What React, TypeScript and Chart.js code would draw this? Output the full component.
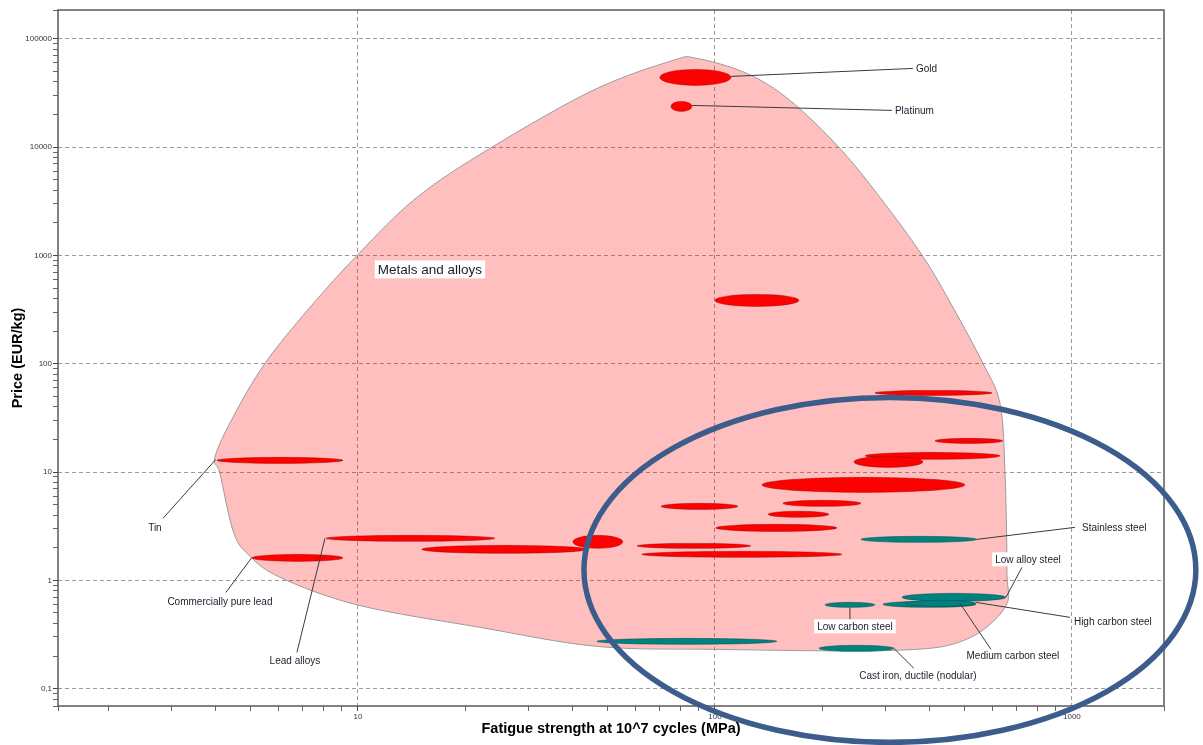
import { useEffect, useRef } from 'react';
import { Chart, registerables } from 'chart.js';

Chart.register(...registerables);

// ---- Material property ranges (fatigue strength MPa, price EUR/kg) ----
const materials = [
  'Gold', 'Platinum', 'Silver', 'Titanium alloys', 'Cobalt alloys',
  'Nickel-chromium alloys', 'Nickel', 'Nickel alloys', 'Copper', 'Bronze',
  'Brass', 'Wrought aluminium alloys', 'Stainless steel', 'Zinc', 'Magnesium alloys',
  'Cast aluminium alloys', 'Zinc alloys', 'Tin', 'Lead alloys', 'Commercially pure lead',
  'Low alloy steel', 'Medium carbon steel', 'High carbon steel', 'Low carbon steel',
  'Cast iron, gray', 'Cast iron, ductile (nodular)',
];
const family = [
  'nonferrous', 'nonferrous', 'nonferrous', 'nonferrous', 'nonferrous',
  'nonferrous', 'nonferrous', 'nonferrous', 'nonferrous', 'nonferrous',
  'nonferrous', 'nonferrous', 'ferrous', 'nonferrous', 'nonferrous',
  'nonferrous', 'nonferrous', 'nonferrous', 'nonferrous', 'nonferrous',
  'ferrous', 'ferrous', 'ferrous', 'ferrous',
  'ferrous', 'ferrous',
];
const fatigueLow = [
  70.1, 75.3, 100, 280.6, 413.3,
  263.2, 245.1, 135.4, 70.6, 155.0,
  140.8, 100.6, 256.4, 40.0, 60.5,
  62.4, 15.1, 4.03, 8.14, 5.05,
  334.1, 295.5, 340.6, 203.3,
  46.7, 195.6,
];
const fatigueHigh = [
  110.9, 86.2, 171.9, 597.0, 640.8,
  628.6, 382.4, 501.5, 116.0, 256.4,
  208.6, 219.6, 541.9, 55.2, 126.1,
  226.8, 43.8, 9.08, 24.2, 9.08,
  653.4, 538.4, 538.4, 280.6,
  149.2, 317.1,
];
const priceLow = [
  37100, 21350, 338.3, 51.0, 18.39,
  13.09, 11.04, 6.49, 4.52, 4.82,
  3.82, 2.83, 2.243, 1.974, 1.974,
  1.631, 1.775, 12.02, 2.291, 1.497,
  0.6401, 0.5633, 0.5754, 0.5633,
  0.2566, 0.2211,
];
const priceHigh = [
  52120, 26410, 436.7, 56.7, 20.46,
  15.19, 13.95, 8.93, 5.14, 5.48,
  4.34, 3.29, 2.548, 2.603, 2.195,
  1.852, 2.104, 13.66, 2.603, 1.738,
  0.7586, 0.6401, 0.6536, 0.6264,
  0.2914, 0.2511,
];

// ---- "Metals and alloys" envelope (fatigue MPa, price EUR/kg) ----
const envelopeFatigue = [
  3.975, 4.466, 5.49, 7.34, 10.07, 14.63, 23.43, 45.5, 76.3, 89.0,
  122.9, 162.3, 223.9, 289.9, 382.4, 464.2, 563.3, 628.6, 649.2, 657.6,
  649.2, 498.3, 315.1, 100, 46.7, 21.96, 10.07, 6.05, 4.89, 4.466, 4.106,
];
const envelopePrice = [
  13.66, 31.97, 100.7, 331.3, 1044, 3431, 9723, 33370, 63120, 65850,
  47880, 26970, 9723, 3431, 979, 331.3, 100.7, 43.04, 10.36, 1.237,
  0.5633, 0.2793, 0.2258, 0.2307, 0.2459, 0.3683, 0.5878, 1.066, 1.775, 2.894, 9.72,
];

// ---- Axis ----
const xMin = 1.445;
const xMax = 1811;
const yMin = 0.0692;
const yMax = 184300;

// ---- Annotations (data units) ----
const labelTexts = [
  'Gold', 'Platinum', 'Tin', 'Commercially pure lead', 'Lead alloys', 'Metals and alloys',
  'Stainless steel', 'Low alloy steel', 'High carbon steel', 'Medium carbon steel',
  'Low carbon steel', 'Cast iron, ductile (nodular)',
];
const labelAttachX = [110.9, 86.2, 4.0, 5.05, 8.084, NaN, 541.9, 653.4, 538.4, 485.7, 238.9, 317.1];
const labelAttachY = [44930, 24250, 13.09, 1.631, 2.442, NaN, 2.39, 0.6967, 0.6264, 0.6132, 0.5633, 0.2357];
const labelEndX = [358.6, 313.1, 2.843, 4.268, 6.748, NaN, 1019.5, 724.4, 987.2, 593.1, 238.9, 360.9];
const labelEndY = [53250, 21810, 3.735, 0.7749, 0.2164, NaN, 3.085, 1.318, 0.4555, 0.2307, 0.4365, 0.1541];
const labelTextX = [365.6, 319.3, 2.70, 4.106, 6.66, 15.91, 1067, 753, 1013, 683.5, 246.7, 370.3];
const labelTextY = [53250, 21810, 3.085, 0.6401, 0.1826, 742.9, 3.085, 1.563, 0.4183, 0.2031, 0.3762, 0.1327];
const labelAlign = ['left', 'left', 'center', 'center', 'center', 'center', 'left', 'center', 'left', 'center', 'center', 'center'];
const labelBoxed = [false, false, false, false, false, true, false, true, false, false, true, false];

// ---- Highlight ring (data units) ----
const ringFatigue = [42.97, 2224];
const ringPrice = [0.03195, 48.9];

const FONT = '"Liberation Sans", Arial, sans-serif';

const isDecade = (v: number) => {
  const l = Math.log10(v);
  return Math.abs(l - Math.round(l)) < 1e-6;
};
const isHalfStep = (v: number) => {
  const s = v / Math.pow(10, Math.floor(Math.log10(v) + 1e-9));
  return Math.abs(s - 1.5) < 1e-6;
};

export default function App() {
  const ref = useRef<HTMLCanvasElement>(null);

  useEffect(() => {
    document.body.style.margin = '0';
    const canvas = ref.current;
    if (!canvas) return;

    const overlay = {
      id: 'materialOverlay',
      beforeDatasetsDraw(chart: any) {
        const { ctx, chartArea, scales } = chart;
        const x = scales.x;
        const y = scales.y;
        ctx.save();
        ctx.beginPath();
        ctx.rect(chartArea.left, chartArea.top, chartArea.right - chartArea.left, chartArea.bottom - chartArea.top);
        ctx.clip();

        // envelope
        const pts = envelopeFatigue.map((v, i) => [x.getPixelForValue(v), y.getPixelForValue(envelopePrice[i])]);
        const n = pts.length;
        ctx.beginPath();
        ctx.moveTo(pts[0][0], pts[0][1]);
        for (let i = 0; i < n; i++) {
          const p0 = pts[(i - 1 + n) % n];
          const p1 = pts[i];
          const p2 = pts[(i + 1) % n];
          const p3 = pts[(i + 2) % n];
          const c1x = p1[0] + (p2[0] - p0[0]) / 6;
          const c1y = p1[1] + (p2[1] - p0[1]) / 6;
          const c2x = p2[0] - (p3[0] - p1[0]) / 6;
          const c2y = p2[1] - (p3[1] - p1[1]) / 6;
          ctx.bezierCurveTo(c1x, c1y, c2x, c2y, p2[0], p2[1]);
        }
        ctx.closePath();
        ctx.fillStyle = 'rgba(255,0,0,0.25)';
        ctx.fill();
        ctx.strokeStyle = '#9a9a9a';
        ctx.lineWidth = 1;
        ctx.stroke();

        // material ellipses
        for (let i = 0; i < materials.length; i++) {
          const x1 = x.getPixelForValue(fatigueLow[i]);
          const x2 = x.getPixelForValue(fatigueHigh[i]);
          const y1 = y.getPixelForValue(priceLow[i]);
          const y2 = y.getPixelForValue(priceHigh[i]);
          const ferrous = family[i] === 'ferrous';
          ctx.beginPath();
          ctx.ellipse((x1 + x2) / 2, (y1 + y2) / 2, Math.abs(x2 - x1) / 2, Math.abs(y1 - y2) / 2, 0, 0, Math.PI * 2);
          ctx.fillStyle = ferrous ? '#00827f' : '#ff0000';
          ctx.fill();
          ctx.strokeStyle = ferrous ? 'rgba(0,70,70,0.6)' : 'rgba(140,0,0,0.55)';
          ctx.lineWidth = 0.8;
          ctx.stroke();
        }
        ctx.restore();
      },
      afterDatasetsDraw(chart: any) {
        const { ctx, chartArea, scales } = chart;
        const x = scales.x;
        const y = scales.y;
        ctx.save();
        // leader lines
        ctx.strokeStyle = '#3a3a3a';
        ctx.lineWidth = 1;
        for (let i = 0; i < labelTexts.length; i++) {
          if (isNaN(labelAttachX[i])) continue;
          ctx.beginPath();
          ctx.moveTo(x.getPixelForValue(labelAttachX[i]), y.getPixelForValue(labelAttachY[i]));
          ctx.lineTo(x.getPixelForValue(labelEndX[i]), y.getPixelForValue(labelEndY[i]));
          ctx.stroke();
        }
        // label texts
        for (let i = 0; i < labelTexts.length; i++) {
          const big = labelTexts[i] === 'Metals and alloys';
          ctx.font = `${big ? 13.5 : 10}px ${FONT}`;
          const tx = x.getPixelForValue(labelTextX[i]);
          const ty = y.getPixelForValue(labelTextY[i]);
          const w = ctx.measureText(labelTexts[i]).width;
          const left = labelAlign[i] === 'left' ? tx : tx - w / 2;
          if (labelBoxed[i]) {
            const h = big ? 18 : 14;
            ctx.fillStyle = '#ffffff';
            ctx.fillRect(left - 3, ty - h / 2, w + 6, h);
          }
          ctx.fillStyle = '#1c1c2c';
          ctx.textBaseline = 'middle';
          ctx.textAlign = 'left';
          ctx.fillText(labelTexts[i], left, ty + 0.5);
        }
        // frame
        ctx.strokeStyle = '#5a5a5a';
        ctx.lineWidth = 1.5;
        ctx.strokeRect(chartArea.left, chartArea.top, chartArea.right - chartArea.left, chartArea.bottom - chartArea.top);
        ctx.restore();
      },
      afterDraw(chart: any) {
        const { ctx, scales } = chart;
        const x = scales.x;
        const y = scales.y;
        const x1 = x.getPixelForValue(ringFatigue[0]);
        const x2 = x.getPixelForValue(ringFatigue[1]);
        const y1 = y.getPixelForValue(ringPrice[0]);
        const y2 = y.getPixelForValue(ringPrice[1]);
        ctx.save();
        ctx.beginPath();
        ctx.ellipse((x1 + x2) / 2, (y1 + y2) / 2, Math.abs(x2 - x1) / 2, Math.abs(y1 - y2) / 2, 0, 0, Math.PI * 2);
        ctx.strokeStyle = '#3c5d8c';
        ctx.lineWidth = 5.5;
        ctx.stroke();
        ctx.restore();
      },
    };

    const chart = new Chart(canvas, {
      type: 'scatter',
      data: {
        datasets: [
          {
            label: 'Materials',
            data: materials.map((_, i) => ({
              x: Math.sqrt(fatigueLow[i] * fatigueHigh[i]),
              y: Math.sqrt(priceLow[i] * priceHigh[i]),
            })),
            pointRadius: 0,
            pointHoverRadius: 0,
          },
        ],
      },
      options: {
        animation: false,
        responsive: true,
        maintainAspectRatio: false,
        layout: { padding: { top: 10, right: 39, left: 0, bottom: 0 } },
        plugins: { legend: { display: false }, tooltip: { enabled: false } },
        scales: {
          x: {
            type: 'logarithmic',
            min: xMin,
            max: xMax,
            afterFit: (s: any) => { s.height = 39; },
            ticks: {
              autoSkip: false,
              maxRotation: 0,
              padding: 1,
              color: '#333344',
              font: { size: 8, family: FONT },
              callback: (v: any) => (isDecade(Number(v)) ? String(Number(v)) : ''),
            },
            grid: {
              lineWidth: 1,
              tickLength: 5,
              color: (c: any) => (c.tick && isDecade(c.tick.value) ? '#9a9a9a' : 'rgba(0,0,0,0)'),
              tickColor: (c: any) =>
                !c.tick || isHalfStep(c.tick.value) ? 'rgba(0,0,0,0)' : isDecade(c.tick.value) ? '#444' : '#666',
            },
            border: { display: false, dash: [4, 3] },
            title: {
              display: true,
              text: 'Fatigue strength at 10^7 cycles (MPa)',
              color: '#000',
              font: { size: 14.5, weight: 'bold', family: FONT },
              padding: { top: 0, bottom: 7.3 },
            },
          },
          y: {
            type: 'logarithmic',
            min: yMin,
            max: yMax,
            afterFit: (s: any) => { s.width = 58; },
            ticks: {
              autoSkip: false,
              padding: 1,
              color: '#333344',
              font: { size: 8, family: FONT },
              callback: (v: any) => {
                const n = Number(v);
                if (!isDecade(n)) return '';
                return n >= 1 ? String(Math.round(n)) : String(n).replace('.', ',');
              },
            },
            grid: {
              lineWidth: 1,
              tickLength: 5,
              color: (c: any) => (c.tick && isDecade(c.tick.value) ? '#9a9a9a' : 'rgba(0,0,0,0)'),
              tickColor: (c: any) =>
                !c.tick || isHalfStep(c.tick.value) ? 'rgba(0,0,0,0)' : isDecade(c.tick.value) ? '#444' : '#666',
            },
            border: { display: false, dash: [4, 3] },
            title: {
              display: true,
              text: 'Price (EUR/kg)',
              color: '#000',
              font: { size: 14.5, weight: 'bold', family: FONT },
              padding: { top: 9.3, bottom: 0 },
            },
          },
        },
      },
      plugins: [overlay],
    });

    return () => chart.destroy();
  }, []);

  return (
    <div style={{ width: 1203, height: 745, position: 'relative' }}>
      <canvas ref={ref} />
    </div>
  );
}
